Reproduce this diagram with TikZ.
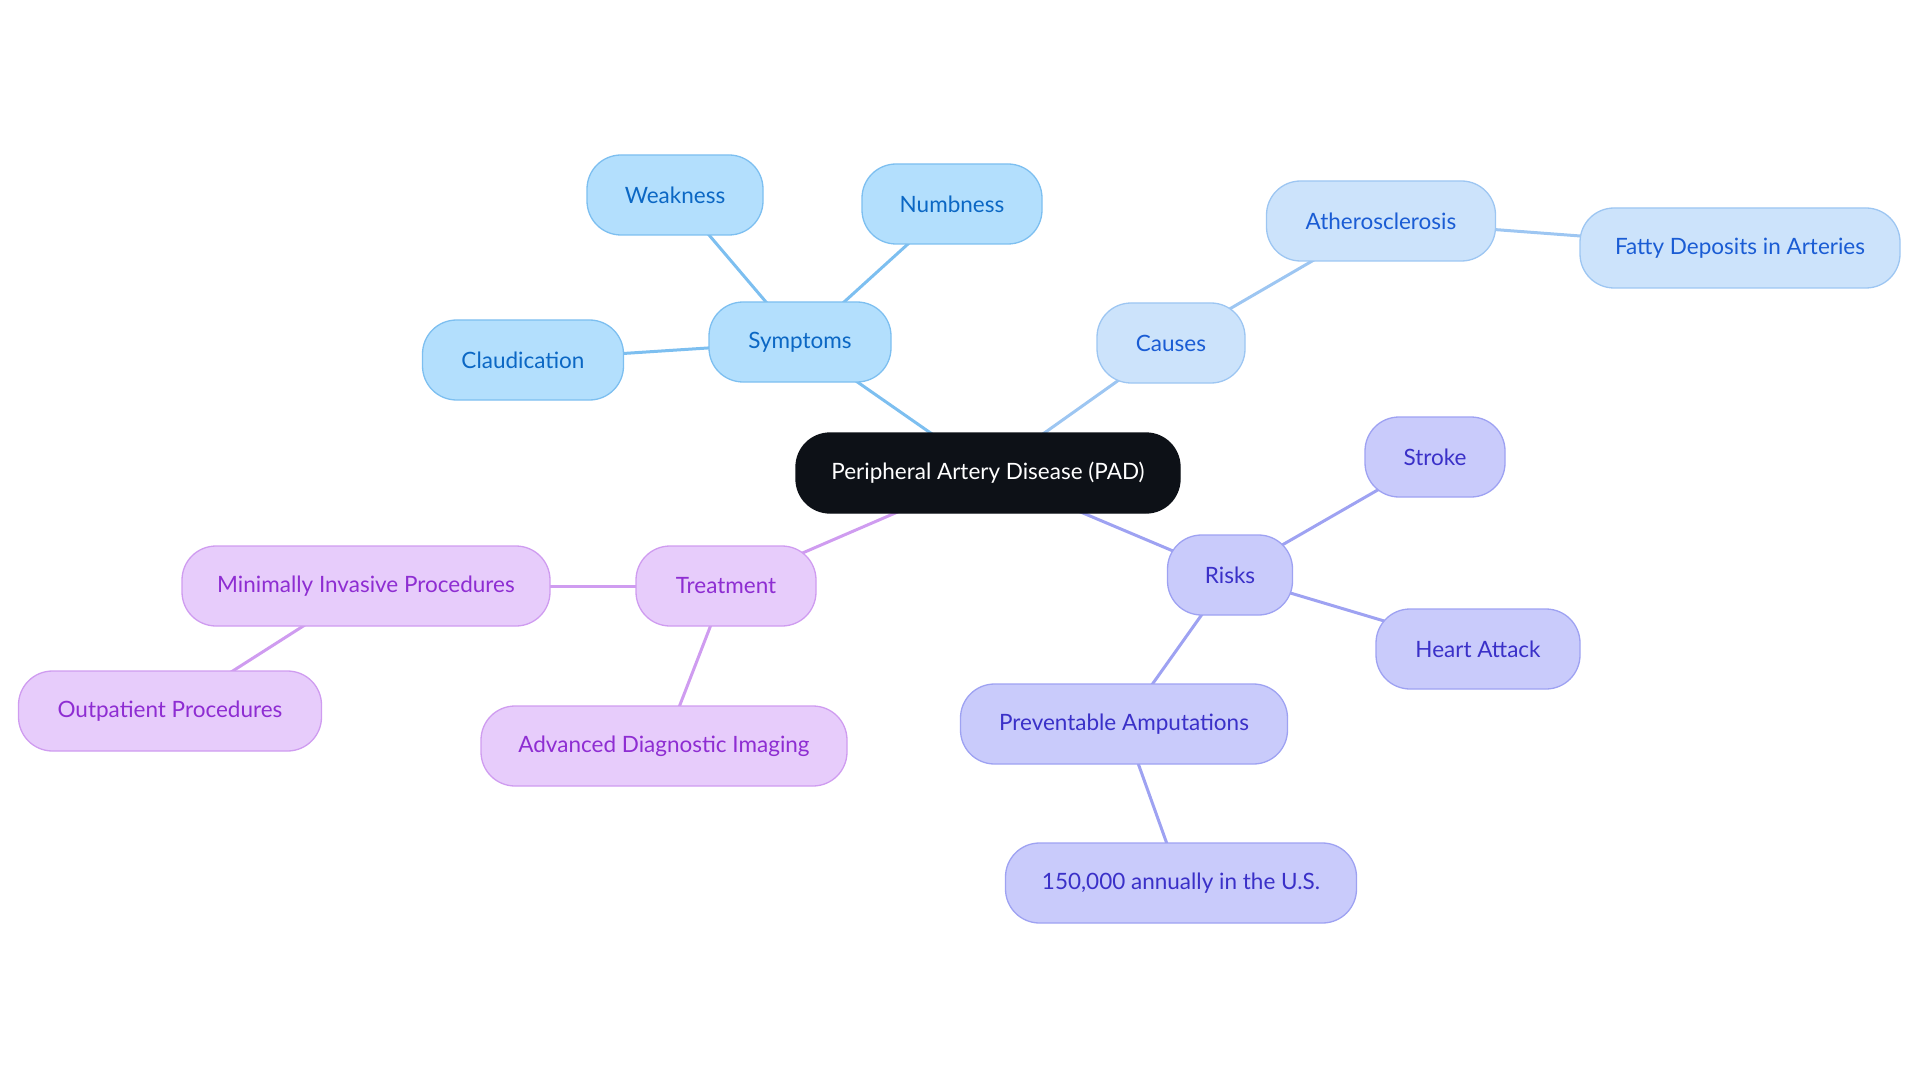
\documentclass[tikz,border=0pt]{standalone}
\usepackage{fontspec}
\setmainfont{Lato}
\usepackage{xcolor}
\usepackage{tikz}
\usetikzlibrary{backgrounds}
\definecolor{rootfill}{HTML}{0D1117}
\definecolor{symfill}{HTML}{B3DFFD}
\definecolor{symline}{HTML}{7DBFF0}
\definecolor{symtext}{HTML}{0B67C4}
\definecolor{caufill}{HTML}{CCE3FB}
\definecolor{cauline}{HTML}{9DC6F2}
\definecolor{cautext}{HTML}{1A5CD4}
\definecolor{riskfill}{HTML}{C9CBFB}
\definecolor{riskline}{HTML}{9EA2F2}
\definecolor{risktext}{HTML}{3A30C8}
\definecolor{trtfill}{HTML}{E7CCFB}
\definecolor{trtline}{HTML}{CF9CF0}
\definecolor{trttext}{HTML}{8E2DD2}

\begin{document}
\begin{tikzpicture}[x=1pt, y=-1pt,
    topic/.style={
        draw, rounded corners=34pt, minimum height=80pt, inner xsep=0pt,
        line width=1.3pt, font=\fontsize{22.5}{27}\selectfont
    },
    rootnode/.style={topic, fill=rootfill, draw=rootfill, text=white},
    sym/.style={topic, fill=symfill, draw=symline, text=symtext},
    cau/.style={topic, fill=caufill, draw=cauline, text=cautext},
    risk/.style={topic, fill=riskfill, draw=riskline, text=risktext},
    trt/.style={topic, fill=trtfill, draw=trtline, text=trttext},
    link/.style={line width=3pt}
]
    \useasboundingbox (0,0) rectangle (1920,1083);

    \node[rootnode, minimum width=384pt] (pad) at (988, 473)
        {Peripheral Artery Disease (PAD)};

    % symptoms
    \node[sym, minimum width=182pt] (symptoms) at (800, 342) {Symptoms};
    \node[sym, minimum width=176pt] (weakness) at (675, 195) {Weakness};
    \node[sym, minimum width=180pt] (numbness) at (952, 204) {Numbness};
    \node[sym, minimum width=201pt] (claud) at (523, 360) {Claudication};

    % causes
    \node[cau, minimum width=148pt] (causes) at (1171, 343) {Causes};
    \node[cau, minimum width=229pt] (athero) at (1381, 221) {Atherosclerosis};
    \node[cau, minimum width=320pt] (fatty) at (1740, 248) {Fatty Deposits in Arteries};

    % risks
    \node[risk, minimum width=125pt] (risks) at (1230, 575) {Risks};
    \node[risk, minimum width=140pt] (stroke) at (1435, 457) {Stroke};
    \node[risk, minimum width=204pt] (heart) at (1478, 649) {Heart Attack};
    \node[risk, minimum width=327pt] (amput) at (1124, 724) {Preventable Amputations};
    \node[risk, minimum width=351pt] (annual) at (1181, 883) {150,000 annually in the U.S.};

    % treatment
    \node[trt, minimum width=180pt] (treat) at (726, 586) {Treatment};
    \node[trt, minimum width=368pt] (minimal) at (366, 586) {Minimally Invasive Procedures};
    \node[trt, minimum width=303pt] (outpat) at (170, 711) {Outpatient Procedures};
    \node[trt, minimum width=366pt] (imaging) at (664, 746) {Advanced Diagnostic Imaging};

    \begin{pgfonlayer}{background}
        \draw[link, symline] (pad.center) -- (symptoms.center);
        \draw[link, symline] (symptoms.center) -- (weakness.center);
        \draw[link, symline] (symptoms.center) -- (numbness.center);
        \draw[link, symline] (symptoms.center) -- (claud.center);
        \draw[link, cauline] (pad.center) -- (causes.center);
        \draw[link, cauline] (causes.center) -- (athero.center);
        \draw[link, cauline] (athero.center) -- (fatty.center);
        \draw[link, riskline] (pad.center) -- (risks.center);
        \draw[link, riskline] (risks.center) -- (stroke.center);
        \draw[link, riskline] (risks.center) -- (heart.center);
        \draw[link, riskline] (risks.center) -- (amput.center);
        \draw[link, riskline] (amput.center) -- (annual.center);
        \draw[link, trtline] (pad.center) -- (treat.center);
        \draw[link, trtline] (treat.center) -- (minimal.center);
        \draw[link, trtline] (minimal.center) -- (outpat.center);
        \draw[link, trtline] (treat.center) -- (imaging.center);
    \end{pgfonlayer}
\end{tikzpicture}
\end{document}
